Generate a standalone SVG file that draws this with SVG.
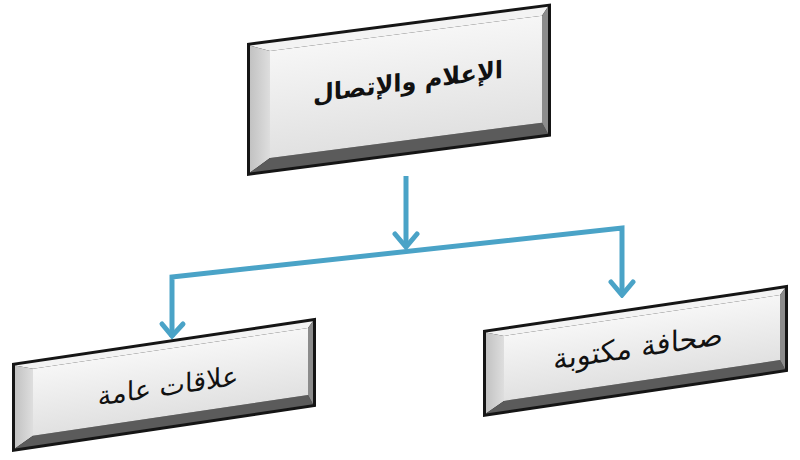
<svg xmlns="http://www.w3.org/2000/svg" width="800" height="460" viewBox="0 0 800 460">
<defs>
<linearGradient id="face" x1="0" y1="0" x2="0" y2="1">
<stop offset="0" stop-color="#f6f6f6"/>
<stop offset="1" stop-color="#e1e1e1"/>
</linearGradient>
<linearGradient id="leftBev" x1="0" y1="0" x2="1" y2="0">
<stop offset="0" stop-color="#c2c2c2"/>
<stop offset="1" stop-color="#dedede"/>
</linearGradient>
<marker id="chev" viewBox="-16 -14 19 28" refX="0" refY="0" markerWidth="19" markerHeight="28" markerUnits="userSpaceOnUse" orient="auto">
<path d="M-13,-11 L0,0 L-13,11" fill="none" stroke="#4aa3c7" stroke-width="5" stroke-linejoin="miter" stroke-linecap="round"/>
</marker>
</defs>
<style>
.border{fill:#151515}
.bt{fill:#f3f3f3}
.bl{fill:url(#leftBev)}
.bb{fill:#5b5b5b}
.br{fill:#8c8c8c}
.face{fill:url(#face)}
.lbl{font-family:"DejaVu Sans",sans-serif;fill:#111;text-anchor:middle;dominant-baseline:central}
.conn{fill:none;stroke:#4aa3c7;stroke-width:5;stroke-linejoin:miter}
</style>
<rect width="800" height="460" fill="#ffffff"/>

<g id="connectors">
<polyline class="conn" points="406,176 406,247" marker-end="url(#chev)"/>
<polyline class="conn" points="172,337 172,277 622,228 622,295" marker-end="url(#chev)"/>
<path d="M162,324 L172,336 L183,324" fill="none" stroke="#4aa3c7" stroke-width="5" stroke-linecap="round"/>
</g>

<g id="node-top" transform="matrix(1,-0.13,0,1,247,43)">
<rect class="border" x="0" y="0" width="304" height="133"/>
<polygon class="bt" points="3,3 301,3 295,11 23,11"/>
<polygon class="bl" points="3,3 23,11 23,118 3,130"/>
<polygon class="bb" points="3,130 23,118 295,118 301,130"/>
<polygon class="br" points="301,3 301,130 295,118 295,11"/>
<rect class="face" x="23" y="11" width="272" height="107"/>
<text class="lbl" x="161" y="60" font-size="24" font-weight="bold">الإعلام والإتصال</text>
</g>

<g id="node-left" transform="matrix(1,-0.149,0,1,12,363)">
<rect class="border" x="0" y="0" width="304" height="89"/>
<polygon class="bt" points="3,3 301,3 296,9 21,9"/>
<polygon class="bl" points="3,3 21,9 21,76 3,86"/>
<polygon class="bb" points="3,86 21,76 296,76 301,86"/>
<polygon class="br" points="301,3 301,86 296,76 296,9"/>
<rect class="face" x="21" y="9" width="275" height="67"/>
<text class="lbl" x="156" y="46" font-size="27">علاقات عامة</text>
</g>

<g id="node-right" transform="matrix(1,-0.148,0,1,483,330)">
<rect class="border" x="0" y="0" width="305" height="87"/>
<polygon class="bt" points="3,3 302,3 297,9 21,9"/>
<polygon class="bl" points="3,3 21,9 21,74 3,84"/>
<polygon class="bb" points="3,84 21,74 297,74 302,84"/>
<polygon class="br" points="302,3 302,84 297,74 297,9"/>
<rect class="face" x="21" y="9" width="276" height="65"/>
<text class="lbl" x="155" y="40" font-size="29">صحافة مكتوبة</text>
</g>
</svg>
